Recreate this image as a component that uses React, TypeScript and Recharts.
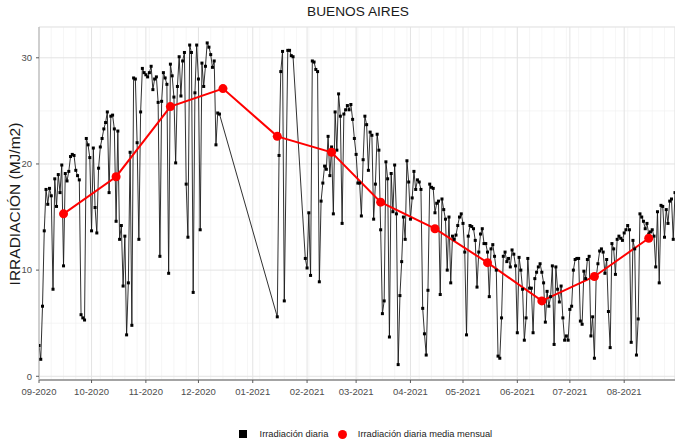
import { LineChart, Line, XAxis, YAxis, CartesianGrid } from 'recharts';

// daily irradiation (MJ/m2), one array per month, null = no data
const sep2020 = [2.9, 1.6, 6.6, 13.7, 17.6, 16.2, 17.7, 17.0, 8.2, 18.6, 16.0, 19.0, 17.3, 19.9, 10.4, 19.1, 18.4, 19.3, 20.7, 20.9, 20.8, 19.4, 18.9, 18.5, 5.8, 5.5, 5.3, 22.4, 21.8, 20.6];
const oct2020 = [13.7, 21.5, 15.9, 13.5, 19.6, 21.6, 22.4, 23.3, 23.9, 24.9, 17.3, 24.5, 24.6, 23.3, 14.6, 23.1, 12.9, 14.2, 8.5, 13.2, 3.9, 8.8, 21.1, 4.8, 28.1, 28.0, 22.0, 12.9, 24.9, 29.0, 28.6];
const nov2020 = [28.4, 28.2, 28.6, 29.2, 27.0, 28.0, 28.2, 25.8, 11.3, 25.9, 28.6, 28.1, 27.5, 9.7, 29.4, 28.3, 26.3, 20.1, 27.3, 30.1, 26.4, 29.7, 30.5, 18.1, 13.1, 31.2, 30.5, 7.9, 26.7, 31.2];
const dec2020 = [28.0, 13.8, 29.5, 27.3, 29.2, 31.4, 31.0, 30.3, 29.1, 29.7, 21.8, 24.8, 24.7, null, null, null, null, null, null, null, null, null, null, null, null, null, null, null, null, null, null];
const jan2021 = [null, null, null, null, null, null, null, null, null, null, null, null, null, null, 5.6, 20.8, 28.7, 30.6, 7.1, null, 30.7, 30.7, 30.2, 30.1, null, null, null, null, null, null, 11.1];
const feb2021 = [10.2, 15.4, 9.5, 29.7, 29.6, 28.9, 28.7, 8.9, 16.5, 18.2, 19.8, 19.5, 22.6, 18.9, 21.6, 15.3, 24.9, 21.3, 26.6, 24.5, 14.4, 24.7, 25.1, 25.5, 25.1, 25.6, 24.2, 22.4];
const mar2021 = [20.9, 18.2, 18.2, 15.1, 20.4, 24.5, 23.7, 19.4, 23.0, 22.7, 14.8, 18.1, 22.8, 21.3, 13.8, 5.9, 7.1, 20.2, 18.6, 3.7, 19.1, 15.5, 19.9, 15.3, 1.1, 7.6, 10.8, 15.0, 12.9, 20.3, 18.3];
const apr2021 = [14.8, 16.8, 19.3, 17.6, 18.5, 18.3, 17.6, 6.4, 4.0, 2.0, 8.1, 18.1, 17.8, 17.7, 15.4, 16.3, 16.5, 7.7, 16.7, 15.7, 14.8, 10.0, 15.0, 8.8, 13.2, 12.9, 13.3, 14.2, 15.0, 15.3];
const may2021 = [14.4, 11.7, 3.9, 13.2, 14.2, 14.1, 13.9, 12.8, 8.4, 11.7, 13.4, 13.9, 12.5, 12.5, 11.7, 7.5, 12.0, 12.4, 11.3, 10.0, 1.9, 1.7, 5.5, 11.3, 11.7, 10.8, 11.1, 10.3, 11.9, 11.5, 10.4];
const jun2021 = [4.1, 11.2, 10.0, 8.2, 3.4, 5.5, 11.1, 8.3, 8.3, 4.1, 9.2, 9.8, 10.3, 10.6, 9.8, 8.8, 5.1, 8.0, 6.6, 7.5, 10.4, 3.0, 10.3, 8.2, 7.0, 8.5, 5.5, 3.4, 3.8, 3.4];
const jul2021 = [6.3, 6.6, 10.0, 11.0, 11.1, 11.1, 5.2, 4.9, 9.9, 9.2, 11.0, 11.3, 3.8, 5.6, 1.7, 9.3, 10.6, 11.8, 12.0, 11.7, 9.7, 11.0, 6.1, 2.7, 12.5, 12.0, 9.6, 12.9, 13.2, 13.0, 12.8];
const aug2021 = [13.5, 13.8, 14.2, 13.8, 3.2, 12.8, 12.0, 2.0, 5.4, 15.3, 15.0, 14.6, 13.9, 14.4, 13.4, 13.6, 13.8, 13.2, 10.3, 15.5, 8.8, 16.1, 16.0, 13.1, 15.7, 14.4, 16.5, 16.7, 12.9, 17.3];

// monthly mean, plotted on the 15th
const monthlyMean = [15.3, 18.8, 25.4, 27.1, 22.6, 21.1, 16.4, 13.9, 10.7, 7.1, 9.4, 13.0];

// days since 01-09-2020 for the first of each month
const monthStart = [0, 30, 61, 91, 122, 153, 181, 212, 242, 273, 303, 334];
const monthLabels = ['09-2020', '10-2020', '11-2020', '12-2020', '01-2021', '02-2021', '03-2021', '04-2021', '05-2021', '06-2021', '07-2021', '08-2021'];

const yTicks = [0, 10, 20, 30];
const yMinor = [5, 15, 25];
const weekTicks = Array.from({ length: 52 }, (_, i) => i * 7);

const months = [sep2020, oct2020, nov2020, dec2020, jan2021, feb2021, mar2021, apr2021, may2021, jun2021, jul2021, aug2021];

const daily = months.flatMap((vals, m) =>
  vals.flatMap((v, i) => (v == null ? [] : [{ day: monthStart[m] + i, value: v }]))
);
const monthly = monthlyMean.map((v, m) => ({ day: monthStart[m] + 14, value: v }));

const X_DOMAIN: [number, number] = [0, 363];
const Y_DOMAIN: [number, number] = [-0.35, 32.9];
const FONT = '"Liberation Sans", Arial, sans-serif';

const SquareDot = (props: any) => {
  const { cx, cy, index } = props;
  if (cx == null || cy == null) return <g key={`sq-${index}`} />;
  return <rect key={`sq-${index}`} x={cx - 1.5} y={cy - 1.5} width={3} height={3} fill="#000" />;
};

export default function App() {
  return (
    <div style={{ position: 'absolute', left: 0, top: 0, width: 675, height: 446, background: '#fff', fontFamily: FONT }}>
      <div style={{ position: 'absolute', left: 0, top: 4, width: 716, textAlign: 'center', fontSize: 13.7, lineHeight: '16px', color: '#1a1a1a' }}>
        BUENOS AIRES
      </div>
      <div
        style={{
          position: 'absolute', left: 15, top: 204, transform: 'translate(-50%, -50%) rotate(-90deg)',
          whiteSpace: 'nowrap', fontSize: 15.5, color: '#1a1a1a',
        }}
      >
        IRRADIACIÓN (MJ/m2)
      </div>

      <LineChart width={675} height={446} data={daily} margin={{ top: 27, right: 0, bottom: 36, left: 0 }} style={{ position: 'absolute', left: 0, top: 0 }}>
        <CartesianGrid xAxisId="w" yAxisId="mi" stroke="#f0f0f0" strokeWidth={0.6} />
        <CartesianGrid xAxisId="m" yAxisId="m" stroke="#e3e3e3" strokeWidth={1} />
        <XAxis
          xAxisId="m" dataKey="day" type="number" domain={X_DOMAIN} ticks={monthStart} interval={0} allowDataOverflow
          tickFormatter={(d: number) => monthLabels[monthStart.indexOf(d)] ?? ''}
          height={30} tickSize={3} tickMargin={5}
          tick={{ fill: '#4d4d4d', fontSize: 9.5 }} axisLine={{ stroke: '#5a5a5a' }} tickLine={{ stroke: '#5a5a5a' }}
        />
        <XAxis xAxisId="w" dataKey="day" type="number" domain={X_DOMAIN} ticks={weekTicks} interval={0} allowDataOverflow hide />
        <XAxis xAxisId="t" orientation="top" type="number" domain={X_DOMAIN} height={0} tick={false} tickLine={false} axisLine={{ stroke: '#b0b0b0' }} />
        <YAxis
          yAxisId="m" type="number" domain={Y_DOMAIN} ticks={yTicks} interval={0} allowDataOverflow
          width={39} tickSize={3} tickMargin={4}
          tick={{ fill: '#4d4d4d', fontSize: 9.5 }} axisLine={{ stroke: '#b0b0b0' }} tickLine={{ stroke: '#5a5a5a' }}
        />
        <YAxis yAxisId="mi" type="number" domain={Y_DOMAIN} ticks={yMinor} interval={0} allowDataOverflow hide />
        <YAxis yAxisId="r" orientation="right" type="number" domain={Y_DOMAIN} width={0} tick={false} tickLine={false} axisLine={{ stroke: '#b0b0b0' }} />
        <Line
          xAxisId="m" yAxisId="m" data={daily} dataKey="value" type="linear"
          stroke="#1a1a1a" strokeWidth={0.9} dot={SquareDot} activeDot={false} isAnimationActive={false}
        />
        <Line
          xAxisId="m" yAxisId="m" data={monthly} dataKey="value" type="linear"
          stroke="#ff0000" strokeWidth={2} dot={{ r: 4.5, fill: '#ff0000', stroke: '#ff0000', strokeWidth: 0 }}
          activeDot={false} isAnimationActive={false}
        />
      </LineChart>

      <div style={{ position: 'absolute', left: 239, top: 429, display: 'flex', alignItems: 'center', fontSize: 9.3, color: '#1a1a1a', whiteSpace: 'nowrap' }}>
        <span style={{ display: 'inline-block', width: 8, height: 8, background: '#000' }} />
        <span style={{ marginLeft: 12.6 }}>Irradiación diaria</span>
        <span style={{ display: 'inline-block', width: 9, height: 9, borderRadius: '50%', background: '#ff0000', marginLeft: 9.5 }} />
        <span style={{ marginLeft: 11 }}>Irradiación diaria media mensual</span>
      </div>
    </div>
  );
}
